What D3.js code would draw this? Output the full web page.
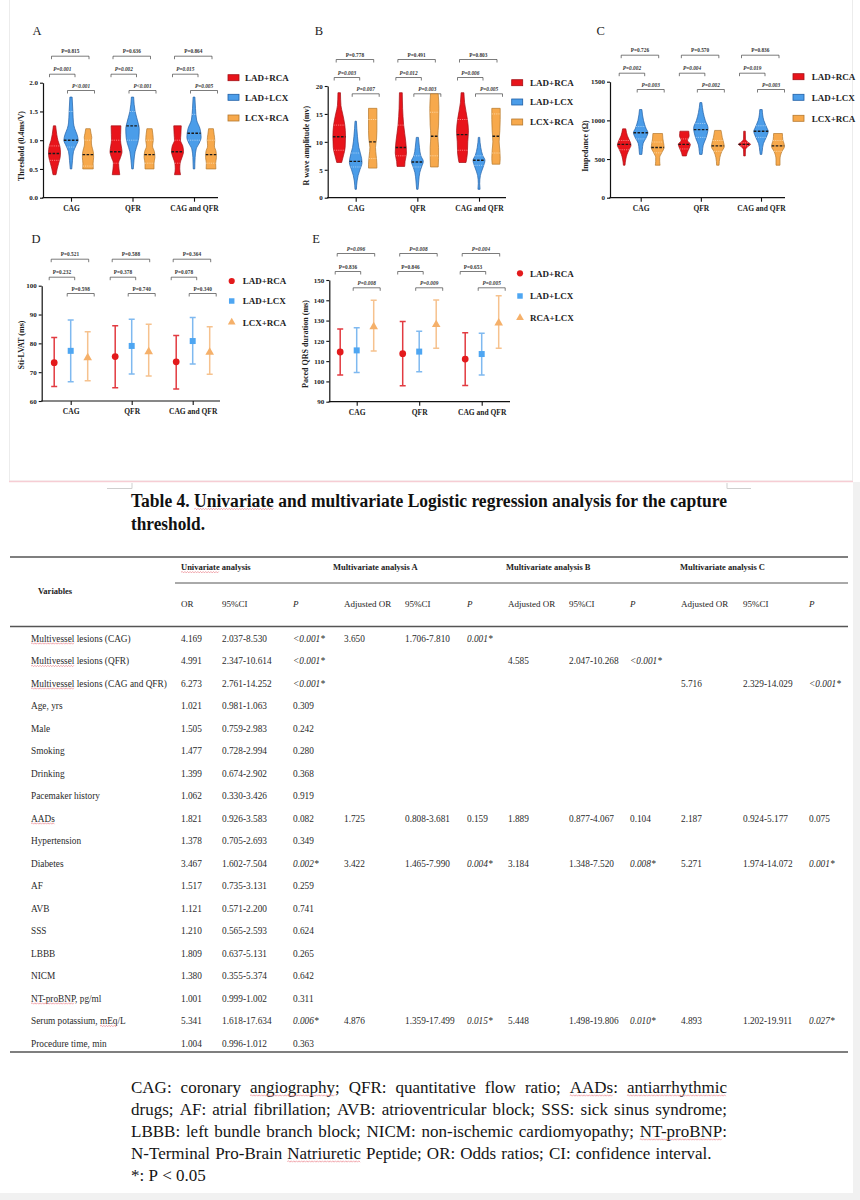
<!DOCTYPE html>
<html><head><meta charset="utf-8">
<script src="https://cdn.jsdelivr.net/npm/d3@7"></script>
<style>
body{margin:0;background:#fff}
svg{display:block}
text{font-family:"Liberation Serif","Times New Roman",serif}
</style>
</head><body>
<svg id="c" width="860" height="1200"></svg>
<script>
// ---------------- DATA ----------------
const categories = ["CAG", "QFR", "CAG and QFR"];
const groupsABCD = ["LAD+RCA", "LAD+LCX", "LCX+RCA"];
const groupsE = ["LAD+RCA", "LAD+LCX", "RCA+LCX"];

const thresholdTicks = [0, 0.5, 1, 1.5, 2];
const amplitudeTicks = [0, 5, 10, 15, 20];
const impedanceTicks = [0, 500, 1000, 1500];
const lvatTicks = [60, 70, 80, 90, 100];
const qrsTicks = [90, 100, 110, 120, 130, 140, 150];

// violin profiles: c = category, g = group, med = median, q = quartiles, p = [value, relative density]
const thresholdViolins = [
  {c:0,g:0,med:0.77,q:[0.65,0.9],p:[[0.4,0.2],[0.5,0.35],[0.6,0.55],[0.7,0.75],[0.78,0.8],[0.9,0.7],[1.0,0.45],[1.1,0.3],[1.25,0.15]]},
  {c:0,g:1,med:1.0,q:[0.88,1.5],p:[[0.5,0.1],[0.65,0.2],[0.8,0.33],[0.9,0.65],[1.0,0.95],[1.1,0.8],[1.2,0.5],[1.3,0.33],[1.5,0.25],[1.75,0.15]]},
  {c:0,g:2,med:0.75,q:[0.55,1.0],p:[[0.5,0.7],[0.6,0.68],[0.7,0.75],[0.8,0.7],[0.9,0.5],[0.97,0.45],[1.05,0.5],[1.12,0.4],[1.2,0.3]]},
  {c:1,g:0,med:0.8,q:[0.6,1.0],p:[[0.4,0.5],[0.5,0.4],[0.6,0.35],[0.7,0.6],[0.8,0.8],[0.9,0.7],[1.0,0.6],[1.1,0.62],[1.25,0.65]]},
  {c:1,g:1,med:1.25,q:[1.0,1.5],p:[[0.5,0.1],[0.65,0.2],[0.8,0.35],[0.95,0.7],[1.05,0.85],[1.2,0.9],[1.3,0.75],[1.5,0.35],[1.75,0.15]]},
  {c:1,g:2,med:0.75,q:[0.6,1.0],p:[[0.5,0.6],[0.6,0.6],[0.7,0.72],[0.8,0.65],[0.9,0.4],[1.0,0.5],[1.1,0.45],[1.2,0.35]]},
  {c:2,g:0,med:0.8,q:[0.6,1.0],p:[[0.4,0.4],[0.5,0.3],[0.6,0.35],[0.7,0.6],[0.8,0.8],[0.9,0.7],[1.0,0.4],[1.1,0.45],[1.25,0.5]]},
  {c:2,g:1,med:1.12,q:[1.0,1.45],p:[[0.5,0.1],[0.7,0.15],[0.85,0.3],[0.95,0.7],[1.05,0.95],[1.2,0.8],[1.35,0.35],[1.55,0.2],[1.75,0.12]]},
  {c:2,g:2,med:0.75,q:[0.6,1.0],p:[[0.5,0.65],[0.6,0.62],[0.7,0.72],[0.8,0.68],[0.9,0.45],[1.0,0.5],[1.1,0.42],[1.2,0.32]]}
];
const amplitudeViolins = [
  {c:0,g:0,med:10.9,q:[8.5,13],p:[[6.3,0.35],[7.5,0.6],[9,0.85],[11,0.9],[13,0.8],[15,0.5],[16.5,0.25],[18.8,0.18]]},
  {c:0,g:1,med:6.5,q:[5.5,8],p:[[1.5,0.1],[3,0.2],[4,0.35],[5,0.6],[6.3,0.9],[7,0.85],[9,0.45],[11,0.25],[13.7,0.1]]},
  {c:0,g:2,med:10,q:[7,14],p:[[5.3,0.6],[6,0.6],[7.5,0.5],[9,0.4],[10.5,0.55],[12,0.6],[14,0.6],[16,0.6]]},
  {c:1,g:0,med:9,q:[7.5,13],p:[[5.6,0.55],[6.5,0.6],[8,0.8],[10,0.7],[13,0.4],[16,0.25],[18.8,0.2]]},
  {c:1,g:1,med:6.4,q:[5.5,7.5],p:[[1.5,0.1],[3,0.2],[4.5,0.35],[5.5,0.6],[6.5,0.85],[7.5,0.5],[9,0.3],[10.8,0.15]]},
  {c:1,g:2,med:11,q:[7.5,15.3],p:[[5.5,0.55],[7,0.6],[9,0.6],[11,0.5],[13,0.6],[16,0.65],[18.6,0.55]]},
  {c:2,g:0,med:11.3,q:[8.5,14],p:[[6.3,0.5],[8,0.7],[10,0.75],[12,0.85],[14,0.7],[17,0.3],[18.8,0.2]]},
  {c:2,g:1,med:6.7,q:[5.8,7.5],p:[[1.5,0.15],[2.5,0.1],[4,0.2],[5.5,0.6],[6.7,0.85],[7.5,0.55],[9,0.25],[10.8,0.1]]},
  {c:2,g:2,med:11,q:[8,15],p:[[6,0.55],[7,0.6],[8.5,0.55],[10,0.45],[12,0.55],[14,0.6],[16,0.6]]}
];
const impedanceViolins = [
  {c:0,g:0,med:690,q:[620,740],p:[[420,0.1],[500,0.2],[560,0.35],[620,0.6],[680,0.85],[720,0.75],[800,0.4],[890,0.2]]},
  {c:0,g:1,med:840,q:[760,920],p:[[560,0.15],[620,0.2],[700,0.3],[780,0.7],[840,0.9],[900,0.65],[1000,0.35],[1140,0.15]]},
  {c:0,g:2,med:650,q:[580,720],p:[[420,0.3],[470,0.25],[520,0.25],[580,0.5],[650,0.8],[700,0.75],[760,0.65],[830,0.6]]},
  {c:1,g:0,med:690,q:[630,760],p:[[540,0.25],[580,0.35],[640,0.6],[690,0.75],[740,0.4],[800,0.6],[860,0.55]]},
  {c:1,g:1,med:880,q:[780,960],p:[[560,0.15],[600,0.2],[680,0.3],[760,0.6],[850,0.85],[900,0.9],[1000,0.55],[1100,0.3],[1230,0.12]]},
  {c:1,g:2,med:670,q:[600,740],p:[[420,0.15],[520,0.25],[600,0.5],[660,0.8],[700,0.75],[780,0.55],[870,0.4]]},
  {c:2,g:0,med:690,q:[670,710],p:[[540,0.1],[620,0.12],[660,0.4],[690,0.75],[720,0.4],[760,0.12],[860,0.1]]},
  {c:2,g:1,med:860,q:[780,930],p:[[560,0.1],[600,0.15],[700,0.3],[780,0.65],[860,0.9],[900,0.75],[1000,0.35],[1140,0.15]]},
  {c:2,g:2,med:670,q:[600,740],p:[[420,0.25],[500,0.25],[600,0.5],[660,0.8],[700,0.75],[750,0.6],[830,0.55]]}
];

// mean and error-bar ends, [category][group]
const lvatMean = [[73.3,77.4,75.0],[75.4,79.1,77.1],[73.6,80.8,76.9]];
const lvatLow  = [[65.0,66.7,67.0],[64.6,69.4,68.7],[64.2,72.8,69.3]];
const lvatHigh = [[82.0,88.1,84.0],[86.1,88.4,86.6],[82.7,89.0,85.8]];
const qrsMean = [[114.5,115.3,127.0],[113.7,114.7,128.0],[111.0,113.5,128.8]];
const qrsLow  = [[103.2,104.4,115.0],[97.9,104.8,116.3],[98.0,103.2,116.3]];
const qrsHigh = [[125.8,126.4,140.0],[129.5,124.7,140.2],[124.0,123.8,142.2]];

// P values per category: [red vs orange (top), red vs blue, blue vs orange]
const thresholdP = [["P=0.815","P=0.001","P<0.001"],["P=0.636","P=0.002","P<0.001"],["P=0.864","P=0.015","P=0.005"]];
const amplitudeP = [["P=0.778","P=0.003","P=0.007"],["P=0.491","P=0.012","P=0.003"],["P=0.803","P=0.006","P=0.005"]];
const impedanceP = [["P=0.726","P=0.002","P=0.003"],["P=0.570","P=0.004","P=0.002"],["P=0.836","P=0.019","P=0.003"]];
const lvatP = [["P=0.521","P=0.232","P=0.598"],["P=0.588","P=0.378","P=0.740"],["P=0.364","P=0.078","P=0.340"]];
const qrsP = [["P=0.096","P=0.836","P=0.008"],["P=0.008","P=0.846","P=0.009"],["P=0.004","P=0.653","P=0.005"]];

// Table 4
const tableTitle = ["Table 4. Univariate and multivariate Logistic regression analysis for the capture", "threshold."];
const groupHeaders = ["Univariate analysis", "Multivariate analysis A", "Multivariate analysis B", "Multivariate analysis C"];
const colHeaders = ["OR","95%CI","P","Adjusted OR","95%CI","P","Adjusted OR","95%CI","P","Adjusted OR","95%CI","P"];
const variables = ["Multivessel lesions (CAG)","Multivessel lesions (QFR)","Multivessel lesions (CAG and QFR)","Age, yrs","Male","Smoking","Drinking","Pacemaker history","AADs","Hypertension","Diabetes","AF","AVB","SSS","LBBB","NICM","NT-proBNP, pg/ml","Serum potassium, mEq/L","Procedure time, min"];
const uniOR = ["4.169","4.991","6.273","1.021","1.505","1.477","1.399","1.062","1.821","1.378","3.467","1.517","1.121","1.210","1.809","1.380","1.001","5.341","1.004"];
const uniCI = ["2.037-8.530","2.347-10.614","2.761-14.252","0.981-1.063","0.759-2.983","0.728-2.994","0.674-2.902","0.330-3.426","0.926-3.583","0.705-2.693","1.602-7.504","0.735-3.131","0.571-2.200","0.565-2.593","0.637-5.131","0.355-5.374","0.999-1.002","1.618-17.634","0.996-1.012"];
const uniP = ["<0.001*","<0.001*","<0.001*","0.309","0.242","0.280","0.368","0.919","0.082","0.349","0.002*","0.259","0.741","0.624","0.265","0.642","0.311","0.006*","0.363"];
const multiA_OR = ["3.650","","","","","","","","1.725","","3.422","","","","","","","4.876",""];
const multiA_CI = ["1.706-7.810","","","","","","","","0.808-3.681","","1.465-7.990","","","","","","","1.359-17.499",""];
const multiA_P  = ["0.001*","","","","","","","","0.159","","0.004*","","","","","","","0.015*",""];
const multiB_OR = ["","4.585","","","","","","","1.889","","3.184","","","","","","","5.448",""];
const multiB_CI = ["","2.047-10.268","","","","","","","0.877-4.067","","1.348-7.520","","","","","","","1.498-19.806",""];
const multiB_P  = ["","<0.001*","","","","","","","0.104","","0.008*","","","","","","","0.010*",""];
const multiC_OR = ["","","5.716","","","","","","2.187","","5.271","","","","","","","4.893",""];
const multiC_CI = ["","","2.329-14.029","","","","","","0.924-5.177","","1.974-14.072","","","","","","","1.202-19.911",""];
const multiC_P  = ["","","<0.001*","","","","","","0.075","","0.001*","","","","","","","0.027*",""];

const footnoteLines = [
  "CAG: coronary angiography; QFR: quantitative flow ratio; AADs: antiarrhythmic",
  "drugs; AF: atrial fibrillation; AVB: atrioventricular block; SSS: sick sinus syndrome;",
  "LBBB: left bundle branch block; NICM: non-ischemic cardiomyopathy; NT-proBNP:",
  "N-Terminal Pro-Brain Natriuretic Peptide; OR: Odds ratios; CI: confidence interval.",
  "*: P < 0.05"
];

// ---------------- DRAWING ----------------
const svg = d3.select("#c");
const fillC = ["#e8141b", "#4b9de9", "#f7a94c"];
const strokeC = ["#a50f14", "#1f5fa6", "#b5782d"];
const quartC = ["#ff9090", "#b0d6f8", "#fddcae"];
const ptFill = ["#e31a1c", "#4ea6f2", "#f5b06a"];
const barC = ["#e23b41", "#7fb9f0", "#f6c28e"];
const offsets = [-16.5, 0, 17];

// page decorations
svg.append("rect").attr("x",0).attr("y",0).attr("width",860).attr("height",1200).attr("fill","#fff");
svg.append("rect").attr("x",853).attr("y",482).attr("width",7).attr("height",718).attr("fill","#f1f1f1");
svg.append("rect").attr("x",0).attr("y",1193).attr("width",860).attr("height",7).attr("fill","#f1f1f1");
svg.append("rect").attr("x",9.5).attr("y",-1).attr("width",843).attr("height",482).attr("fill","none").attr("stroke","#ececec");
svg.append("line").attr("x1",9).attr("x2",853).attr("y1",481.5).attr("y2",481.5).attr("stroke","#f6cdd4").attr("stroke-width",1.5);
svg.append("path").attr("d","M107,488.5H132V483").attr("fill","none").attr("stroke","#cfcfcf");
svg.append("path").attr("d","M751,488.5H727V483").attr("fill","none").attr("stroke","#cfcfcf");

function widthAt(prof, v) {
  for (let i = 0; i < prof.length - 1; i++) {
    const a = prof[i], b = prof[i+1];
    if (v >= a[0] && v <= b[0]) return a[1] + (b[1]-a[1]) * (v - a[0]) / (b[0] - a[0]);
  }
  return prof[prof.length-1][1];
}

function drawFrame(cfg) {
  const g = svg.append("g");
  const y = d3.scaleLinear().domain(cfg.domain).range([cfg.yBot, cfg.yTop]);
  const x = d3.scalePoint().domain(categories).range(cfg.range);
  g.append("text").attr("x", cfg.letter[0]).attr("y", cfg.letter[1] + 4.5).attr("text-anchor","middle")
    .attr("font-size", 12.5).attr("fill","#222").text(cfg.key);
  const ya = g.append("g").attr("transform", `translate(${cfg.x0},0)`)
    .call(d3.axisLeft(y).tickValues(cfg.ticks).tickFormat(cfg.fmt || d3.format("d")).tickSize(3).tickSizeOuter(0).tickPadding(2));
  ya.select(".domain").attr("stroke","#111").attr("stroke-width",1.2);
  ya.selectAll(".tick line").attr("stroke","#111").attr("stroke-width",1.1);
  ya.selectAll("text").attr("font-size",7).attr("font-weight","bold").attr("fill","#222")
    .attr("font-family",'"Liberation Serif","Times New Roman",serif');
  const xa = g.append("g").attr("transform", `translate(0,${cfg.yBot})`)
    .call(d3.axisBottom(x).tickSize(4).tickPadding(4).tickSizeOuter(0));
  xa.select(".domain").remove();
  xa.selectAll(".tick line").attr("stroke","#111").attr("stroke-width",1.1);
  xa.selectAll("text").attr("font-size",7.5).attr("font-weight","bold").attr("fill","#222")
    .attr("font-family",'"Liberation Serif","Times New Roman",serif');
  g.append("line").attr("x1", cfg.x0 - 0.6).attr("x2", cfg.x1).attr("y1", cfg.yBot).attr("y2", cfg.yBot)
    .attr("stroke","#111").attr("stroke-width",1.2);
  g.append("text").attr("transform", `translate(${cfg.titlePos[0] + 3},${cfg.titlePos[1]}) rotate(-90)`)
    .attr("text-anchor","middle").attr("font-size",8).attr("font-weight","bold").attr("fill","#222").text(cfg.title);
  const brOff = [[-19.5,18,-26.5],[-21.5,4,-8.5],[-3.5,23.5,7.8]];
  cfg.pvals.forEach((trip, ci) => {
    const cx = x(categories[ci]);
    trip.forEach((lab, k) => {
      const [a, b, dy] = brOff[k];
      const yy = cfg.yTop + dy;
      g.append("path").attr("d", `M${cx+a},${yy+3}V${yy}H${cx+b}V${yy+3}`)
        .attr("fill","none").attr("stroke","#444").attr("stroke-width",0.7);
      g.append("text").attr("x", cx + (a+b)/2).attr("y", yy - 2.8).attr("text-anchor","middle")
        .attr("font-size",5.3).attr("font-weight","bold").attr("fill","#333")
        .attr("font-style", cfg.italic[k] ? "italic" : null).text(lab);
    });
  });
  return {g, x, y};
}

function legendRects(g, cfg) {
  cfg.legendLabels.forEach((lab, i) => {
    const yy = cfg.legend[2][i];
    g.append("rect").attr("x", cfg.legend[0]).attr("y", yy - 3).attr("width", 11).attr("height", 6)
      .attr("fill", fillC[i]).attr("stroke", strokeC[i]).attr("stroke-width",0.8);
    g.append("text").attr("x", cfg.legend[1]).attr("y", yy + 3.2).attr("font-size",9).attr("font-weight","bold")
      .attr("fill","#222").text(lab);
  });
}
const symTypes = [d3.symbolCircle, d3.symbolSquare, d3.symbolTriangle];
const symSizes = [30, 30, 26];
function legendSymbols(g, cfg) {
  cfg.legendLabels.forEach((lab, i) => {
    const yy = cfg.legend[2][i];
    g.append("path").attr("d", d3.symbol().type(symTypes[i]).size(symSizes[i])())
      .attr("transform", `translate(${cfg.legend[0]},${yy})`).attr("fill", ptFill[i]);
    g.append("text").attr("x", cfg.legend[1]).attr("y", yy + 3.2).attr("font-size",9).attr("font-weight","bold")
      .attr("fill","#222").text(lab);
  });
}

const violinPanels = [
  {key:"A", letter:[37,30], x0:43, x1:218, range:[71,194], yTop:82.7, yBot:197.7, domain:[0,2], ticks:thresholdTicks,
   fmt:d3.format(".1f"), title:"Threshold (0.4ms/V)", titlePos:[20.7,146], data:thresholdViolins, W:7.5,
   pvals:thresholdP, italic:[false,true,true], legend:[228,245,[77.7,97.3,118]], legendLabels:groupsABCD},
  {key:"B", letter:[319,30], x0:327.7, x1:506, range:[355.7,479], yTop:86, yBot:197.7, domain:[0,20], ticks:amplitudeTicks,
   title:"R wave amplitude (mv)", titlePos:[306,145.7], data:amplitudeViolins, W:7,
   pvals:amplitudeP, italic:[false,true,true], legend:[511.7,530,[82.7,102,122]], legendLabels:groupsABCD},
  {key:"C", letter:[600.7,30], x0:610, x1:785, range:[640.7,761], yTop:81.7, yBot:197.7, domain:[0,1500], ticks:impedanceTicks,
   title:"Impedance (Ω)", titlePos:[585,146], data:impedanceViolins, W:8,
   pvals:impedanceP, italic:[false,true,true], legend:[793,811.7,[76.7,97.3,118.3]], legendLabels:groupsABCD}
];

violinPanels.forEach(cfg => {
  const {g, x, y} = drawFrame(cfg);
  cfg.data.forEach(d => {
    const cx = x(categories[d.c]) + offsets[d.g];
    const prof = d.p.slice().sort((a,b) => a[0]-b[0]);
    const area = d3.area().y(p => y(p[0])).x0(p => cx - p[1]*cfg.W).x1(p => cx + p[1]*cfg.W)
      .curve(d3.curveMonotoneY);
    g.append("path").attr("d", area(prof)).attr("fill", fillC[d.g]).attr("stroke", strokeC[d.g]).attr("stroke-width",0.7);
    d.q.forEach(qv => {
      const w = widthAt(prof, qv) * cfg.W;
      g.append("line").attr("x1", cx - w).attr("x2", cx + w).attr("y1", y(qv)).attr("y2", y(qv))
        .attr("stroke", quartC[d.g]).attr("stroke-width",0.8).attr("stroke-dasharray","1.2,1");
    });
    const wm = widthAt(prof, d.med) * cfg.W;
    g.append("line").attr("x1", cx - wm).attr("x2", cx + wm).attr("y1", y(d.med)).attr("y2", y(d.med))
      .attr("stroke","#1a1a1a").attr("stroke-width",1.4).attr("stroke-dasharray","2.6,1.4");
  });
  legendRects(g, cfg);
});

const pointPanels = [
  {key:"D", letter:[36,238.3], x0:41.7, x1:220, range:[70.7,192.7], yTop:285.7, yBot:401, domain:[60,100], ticks:lvatTicks,
   title:"Sti-LVAT (ms)", titlePos:[20.7,345], mean:lvatMean, low:lvatLow, high:lvatHigh,
   pvals:lvatP, italic:[false,false,false], legend:[231.7,242.7,[281,301,322.3]], legendLabels:groupsABCD},
  {key:"E", letter:[316,238.3], x0:329.3, x1:510, range:[356.7,481.7], yTop:280, yBot:401.7, domain:[90,150], ticks:qrsTicks,
   title:"Paced QRS duration (ms)", titlePos:[305,344], mean:qrsMean, low:qrsLow, high:qrsHigh,
   pvals:qrsP, italic:[true,false,true], legend:[520,530,[273.3,296,317.7]], legendLabels:groupsE}
];

pointPanels.forEach(cfg => {
  const {g, x, y} = drawFrame(cfg);
  categories.forEach((cat, ci) => {
    [0,1,2].forEach(gi => {
      const cx = x(cat) + offsets[gi];
      const lo = y(cfg.low[ci][gi]), hi = y(cfg.high[ci][gi]);
      g.append("path").attr("d", `M${cx},${lo}V${hi}M${cx-3},${lo}H${cx+3}M${cx-3},${hi}H${cx+3}`)
        .attr("fill","none").attr("stroke", barC[gi]).attr("stroke-width",1.5);
      g.append("path").attr("d", d3.symbol().type(symTypes[gi]).size(symSizes[gi] + 6)())
        .attr("transform", `translate(${cx},${y(cfg.mean[ci][gi])})`).attr("fill", ptFill[gi]);
    });
  });
  legendSymbols(g, cfg);
});

// ---------------- TABLE ----------------
function squiggle(x1, x2, y) {
  let d = `M${x1},${y}`; let up = true;
  for (let xx = x1 + 1.3; xx <= x2; xx += 1.3) { d += `L${xx},${y + (up ? -0.7 : 0.7)}`; up = !up; }
  svg.append("path").attr("d", d).attr("fill","none").attr("stroke","#e8707a").attr("stroke-width",0.6);
}
function underline(textSel, word, baseline, off) {
  const node = textSel.node(); const s = node.textContent; const i = s.indexOf(word);
  if (i < 0) return;
  const a = node.getExtentOfChar(i), b = node.getExtentOfChar(i + word.length - 1);
  squiggle(a.x, b.x + b.width, baseline + (off || 2));
}
function txt(x, y, s, o) {
  o = o || {};
  return svg.append("text").attr("x", x).attr("y", y).text(s)
    .attr("font-size", o.fs || 9.3).attr("font-weight", o.bold ? "bold" : null)
    .attr("font-style", o.italic ? "italic" : null).attr("fill", o.fill || "#2a2a2a")
    .attr("text-anchor", o.anchor || "start");
}

const t1 = txt(131, 506.5, tableTitle[0], {fs:18.5, bold:true, fill:"#111"})
  .attr("textLength", 596).attr("lengthAdjust","spacingAndGlyphs");
underline(t1, "Univariate", 506.5, 2.5);
txt(131, 529.5, tableTitle[1], {fs:18.5, bold:true, fill:"#111"}).attr("textLength", 74).attr("lengthAdjust","spacingAndGlyphs");

svg.append("line").attr("x1",10).attr("x2",848).attr("y1",557).attr("y2",557).attr("stroke","#555").attr("stroke-width",1.6);
svg.append("line").attr("x1",175).attr("x2",848).attr("y1",583).attr("y2",583).attr("stroke","#555").attr("stroke-width",1);
svg.append("line").attr("x1",10).attr("x2",848).attr("y1",626.5).attr("y2",626.5).attr("stroke","#555").attr("stroke-width",1.3);
svg.append("line").attr("x1",10).attr("x2",848).attr("y1",1052).attr("y2",1052).attr("stroke","#555").attr("stroke-width",1.6);

const groupX = [181, 333, 506, 680];
groupHeaders.forEach((h, i) => {
  const t = txt(groupX[i], 570, h, {fs:8.5, bold:true, fill:"#222"});
  if (i === 0) underline(t, "Univariate", 570, 2.2);
});
txt(38, 594, "Variables", {fs:8.5, bold:true, fill:"#222"});
const colX = [181, 222, 293, 344, 405, 467, 508, 569, 630, 681, 743, 809];
colHeaders.forEach((h, i) => txt(colX[i], 606.5, h, {fs:9, italic: h === "P", fill:"#222"}));

const rowCols = [uniOR, uniCI, uniP, multiA_OR, multiA_CI, multiA_P, multiB_OR, multiB_CI, multiB_P, multiC_OR, multiC_CI, multiC_P];
variables.forEach((v, r) => {
  const yb = 641.5 + r * 22.5;
  const t = txt(31, yb, v);
  ["Multivessel", "AADs", "NT-proBNP", "mEq"].forEach(w => { if (v.indexOf(w) >= 0) underline(t, w, yb, 2); });
  rowCols.forEach((col, k) => {
    const s = col[r];
    if (!s) return;
    txt(colX[k], yb, s, {italic: s.indexOf("*") >= 0});
  });
});

// footnote (justified)
const footX0 = 131, footX1 = 727, footFs = 17;
const footBase = [1093, 1115, 1137, 1159, 1181];
const underWords = ["angiography", "AADs", "antiarrhythmic", "NT-proBNP", "Natriuretic"];
footnoteLines.forEach((line, li) => {
  const words = line.split(" ");
  const els = words.map(w => txt(0, footBase[li], w, {fs: footFs, fill:"#141414"}));
  const widths = els.map(e => e.node().getComputedTextLength());
  const total = d3.sum(widths);
  const justify = li < 4;
  let gap = justify ? (footX1 - footX0 - total) / (words.length - 1) : footFs * 0.25;
  if (li === 3) gap = Math.min(gap, footFs * 0.3);
  let xx = footX0;
  els.forEach((e, i) => {
    e.attr("x", xx);
    underWords.forEach(uw => {
      if (words[i].indexOf(uw) === 0) {
        const n = e.node();
        const wlen = n.getSubStringLength(0, uw.length);
        squiggle(xx, xx + wlen, footBase[li] + 2.5);
      }
    });
    xx += widths[i] + gap;
  });
});
</script>
</body></html>
